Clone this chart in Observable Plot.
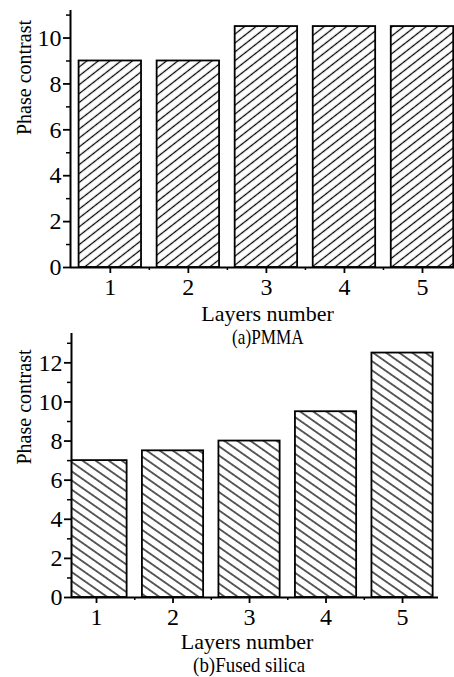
<!DOCTYPE html>
<html>
<head>
<meta charset="utf-8">
<script src="https://cdn.jsdelivr.net/npm/d3@7"></script>
<script src="https://cdn.jsdelivr.net/npm/@observablehq/plot@0.6"></script>
<style>
  html, body { margin: 0; padding: 0; background: #fff; }
  #wrap { position: relative; width: 454px; height: 677px; overflow: hidden; font-family: "Liberation Serif", "Times New Roman", serif; color: #000; }
  #wrap svg { position: absolute; left: 0; }
  .cap { position: absolute; height: 24px; line-height: 24px; font-size: 22px; white-space: nowrap; transform-origin: center; }
</style>
</head>
<body>
<div id="wrap"></div>
<script>
// ---- data ----
const layers = [1, 2, 3, 4, 5];
const pmma = [9, 9, 10.5, 10.5, 10.5];
const silica = [7, 7.5, 8, 9.5, 12.5];
const yTicksA = [0, 2, 4, 6, 8, 10];
const yMinorA = [1, 3, 5, 7, 9, 11];
const yTicksB = [0, 2, 4, 6, 8, 10, 12];
const yMinorB = [1, 3, 5, 7, 9, 11, 13];
const xMinor = [1.5, 2.5, 3.5, 4.5];
const xLabel = "Layers number";
const yLabel = "Phase contrast";
const captionA = "(a)PMMA";
const captionB = "(b)Fused silica";

const halfWidth = 0.4;

function panel({values, yTicks, yMinor, xDomain, yDomain, height, marginTop, marginBottom, marginLeft, marginRight, hatchId, angle, spacing, xLabelDx, xLabelDy, yLabelDx, yLabelDy}) {
  const data = layers.map((l, i) => ({layer: l, value: values[i]}));
  const svg = Plot.plot({
    width: 454,
    height,
    marginTop, marginBottom, marginLeft, marginRight,
    style: {fontFamily: "Liberation Serif, Times New Roman, serif", fontSize: "24px", background: "transparent", color: "#000"},
    x: {domain: xDomain, axis: null},
    y: {domain: yDomain, axis: null},
    marks: [
      Plot.rectY(data, {x1: d => d.layer - halfWidth, x2: d => d.layer + halfWidth, y: "value", fill: `url(#${hatchId})`, stroke: "#000", strokeWidth: 1.8, clip: true}),
      Plot.ruleX([xDomain[0]], {stroke: "#000", strokeWidth: 2}),
      Plot.ruleY([0], {stroke: "#000", strokeWidth: 2}),
      Plot.axisY({ticks: yTicks, tickSize: 7, tickPadding: 2, strokeWidth: 1.8, label: null, tickFormat: d => String(d)}),
      Plot.axisY({ticks: yMinor.filter(v => v <= yDomain[1]), tickSize: 4, tickFormat: () => "", strokeWidth: 1.5, label: null}),
      Plot.axisX({ticks: layers, tickSize: 6, tickPadding: 4, strokeWidth: 1.8, label: null, tickFormat: d => String(d)}),
      Plot.axisX({ticks: xMinor, tickSize: 3, tickFormat: () => "", strokeWidth: 1.5, label: null}),
      Plot.text([xLabel], {frameAnchor: "bottom", lineAnchor: "middle", dx: xLabelDx, dy: xLabelDy, fontSize: 22, fill: "#000"}),
      Plot.text([yLabel], {frameAnchor: "left", lineAnchor: "middle", rotate: -90, dx: yLabelDx, dy: yLabelDy, fontSize: 20, fill: "#000"})
    ]
  });
  const ns = "http://www.w3.org/2000/svg";
  const defs = document.createElementNS(ns, "defs");
  const pat = document.createElementNS(ns, "pattern");
  pat.setAttribute("id", hatchId);
  pat.setAttribute("patternUnits", "userSpaceOnUse");
  pat.setAttribute("width", 10);
  pat.setAttribute("height", spacing);
  pat.setAttribute("patternTransform", `rotate(${angle})`);
  const bg = document.createElementNS(ns, "rect");
  bg.setAttribute("width", 10); bg.setAttribute("height", spacing); bg.setAttribute("fill", "#fff");
  const line = document.createElementNS(ns, "line");
  line.setAttribute("x1", -1); line.setAttribute("x2", 11);
  line.setAttribute("y1", spacing / 2); line.setAttribute("y2", spacing / 2);
  line.setAttribute("stroke", "#000"); line.setAttribute("stroke-width", 1.25);
  pat.appendChild(bg); pat.appendChild(line); defs.appendChild(pat);
  svg.insertBefore(defs, svg.firstChild);
  return svg;
}

const wrap = document.getElementById("wrap");

const svgA = panel({
  values: pmma, yTicks: yTicksA, yMinor: yMinorA,
  xDomain: [0.49, 5.41], yDomain: [0, 11.2],
  height: 326, marginTop: 10, marginBottom: 59, marginLeft: 70, marginRight: 0,
  hatchId: "hatchA", angle: -38, spacing: 7,
  xLabelDx: 5, xLabelDy: 46, yLabelDx: -46, yLabelDy: -4
});
svgA.style.top = "0px";
wrap.appendChild(svgA);

const svgB = panel({
  values: silica, yTicks: yTicksB, yMinor: yMinorB,
  xDomain: [0.673, 5.47], yDomain: [0, 13.5],
  height: 352, marginTop: 8, marginBottom: 80, marginLeft: 71, marginRight: 16,
  hatchId: "hatchB", angle: 35, spacing: 7.5,
  xLabelDx: -8, xLabelDy: 44, yLabelDx: -47, yLabelDy: -1
});
svgB.style.top = "325px";
wrap.appendChild(svgB);

function caption(text, cx, cy, sx) {
  const d = document.createElement("div");
  d.className = "cap";
  d.textContent = text;
  wrap.appendChild(d);
  const w = d.getBoundingClientRect().width;
  d.style.left = (cx - w / 2) + "px";
  d.style.top = (cy - 12) + "px";
  d.style.transform = `scaleX(${sx})`;
}
caption(captionA, 268, 337, 0.78);
caption(captionB, 249, 665, 0.86);
</script>
</body>
</html>
